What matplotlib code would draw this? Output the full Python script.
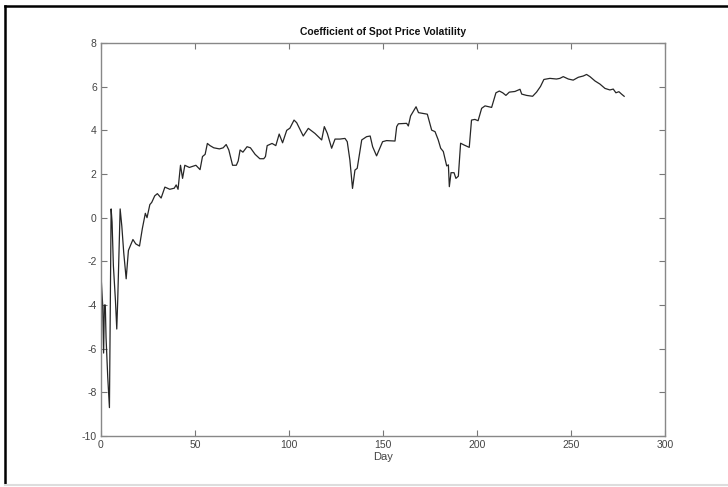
import matplotlib
matplotlib.use('Agg')
import matplotlib.pyplot as plt
from matplotlib.lines import Line2D

plt.rcParams['font.family'] = ['Liberation Sans', 'DejaVu Sans']
plt.rcParams['axes.unicode_minus'] = False

# values (day, coefficient)
days = [0, 0.9, 1.4, 1.8, 2.3, 2.7, 3.6, 4.5, 5.4, 5.9, 6.6, 7.7, 8.4, 8.9, 9.5,
        10.2, 11.1, 12.1, 13.4, 14.6, 17, 18.5, 20.5, 22, 23.6, 24.5, 26, 27,
        28.6, 30, 32, 34, 36.6, 39, 40, 41, 42.3, 43.4, 44.6, 47, 50.5, 52.7,
        54, 55.4, 56.6, 58, 60, 63, 65, 66.6, 68, 70, 72, 73, 74, 75.5, 77.7,
        79.5, 82, 84.5, 86.6, 87.5, 88.4, 91, 93, 94.8, 96.6, 98.8, 100.5,
        102.7, 104.1, 107.6, 110.3, 113.8, 117.4, 118.8, 120.4, 122.7, 124.5,
        127.1, 129.8, 131, 132.4, 133.8, 135.1, 136.3, 138.7, 141.3, 143.2,
        144.5, 146.6, 149.8, 151.9, 156.4, 157.3, 158.2, 162.6, 163.5, 164.7,
        167.6, 168.9, 171, 173.6, 175.9, 177.7, 179.4, 180.7, 182.1, 183.9,
        184.8, 185.3, 186.2, 187.8, 188.8, 190.1, 191.3, 193.1, 195.9, 197.1,
        198.9, 200.6, 202.5, 204.3, 207.8, 210.1, 211.9, 213.7, 215.4, 217.2,
        220.2, 222.9, 223.8, 226.4, 229.6, 231.7, 233.8, 235.6, 238.8, 242.3,
        244.1, 245.9, 248.6, 251.2, 253.9, 256.6, 258.3, 260.1, 262.8, 265.4,
        268.1, 270.7, 272.5, 273.9, 275.5, 276.9, 278.3]
coef = [-2.6, -4.0, -6.2, -4.0, -4.0, -5.5, -7.3, -8.7, 0.4, -0.2, -2.2, -3.8,
        -5.1, -3.8, -1.9, 0.4, -0.4, -1.6, -2.8, -1.5, -1.0, -1.2, -1.3, -0.5,
        0.2, 0.0, 0.6, 0.7, 1.0, 1.1, 0.9, 1.4, 1.3, 1.35, 1.5, 1.3, 2.4, 1.8,
        2.4, 2.3, 2.4, 2.2, 2.8, 2.9, 3.4, 3.3, 3.2, 3.15, 3.2, 3.35, 3.1, 2.4,
        2.4, 2.6, 3.1, 3.0, 3.25, 3.2, 2.9, 2.7, 2.7, 2.8, 3.3, 3.4, 3.3, 3.83,
        3.43, 4.0, 4.1, 4.47, 4.35, 3.74, 4.09, 3.86, 3.56, 4.17, 3.86, 3.18,
        3.6, 3.6, 3.63, 3.48, 2.64, 1.34, 2.18, 2.26, 3.56, 3.71, 3.74, 3.25,
        2.83, 3.48, 3.53, 3.51, 4.17, 4.3, 4.32, 4.2, 4.66, 5.08, 4.81, 4.78,
        4.74, 4.01, 3.94, 3.56, 3.18, 3.03, 2.37, 2.42, 1.42, 2.06, 2.06, 1.8,
        1.9, 3.41, 3.33, 3.22, 4.47, 4.5, 4.44, 5.01, 5.12, 5.05, 5.72, 5.8,
        5.72, 5.6, 5.75, 5.78, 5.88, 5.66, 5.6, 5.56, 5.75, 6.01, 6.33, 6.38,
        6.35, 6.38, 6.46, 6.35, 6.3, 6.43, 6.49, 6.56, 6.46, 6.26, 6.12, 5.92,
        5.85, 5.89, 5.72, 5.77, 5.66, 5.56]

xticks = [0, 50, 100, 150, 200, 250, 300]
yticks = [-10, -8, -6, -4, -2, 0, 2, 4, 6, 8]

fig = plt.figure(figsize=(7.28, 4.87), dpi=100)
ax = fig.add_axes([0.1387, 0.1047, 0.7747, 0.807])

ax.plot(days, coef, color='#262626', linewidth=0.9)

ax.set_xlim(0, 300)
ax.set_ylim(-10, 8)
ax.set_xticks(xticks)
ax.set_yticks(yticks)
ax.tick_params(direction='in', length=4, width=0.8, colors='#777777',
               labelcolor='#444444', labelsize=7.5, top=True, right=True,
               pad=3)
for s in ax.spines.values():
    s.set_color('#888888')
    s.set_linewidth(1.0)

ax.set_title('Coefficient of Spot Price Volatility', fontsize=7.5,
             fontweight='bold', color='#111111', pad=6)
ax.set_xlabel('Day', fontsize=8, color='#444444', labelpad=1)

# page frame around the figure
fig.add_artist(Line2D([0.007, 1.0], [0.988, 0.988], color='black', linewidth=1.8))
fig.add_artist(Line2D([0.007, 0.007], [0.006, 0.988], color='black', linewidth=1.8))
fig.add_artist(Line2D([0.007, 1.0], [0.004, 0.004], color='#dddddd', linewidth=1.5))

fig.savefig('out.png', dpi=100)
